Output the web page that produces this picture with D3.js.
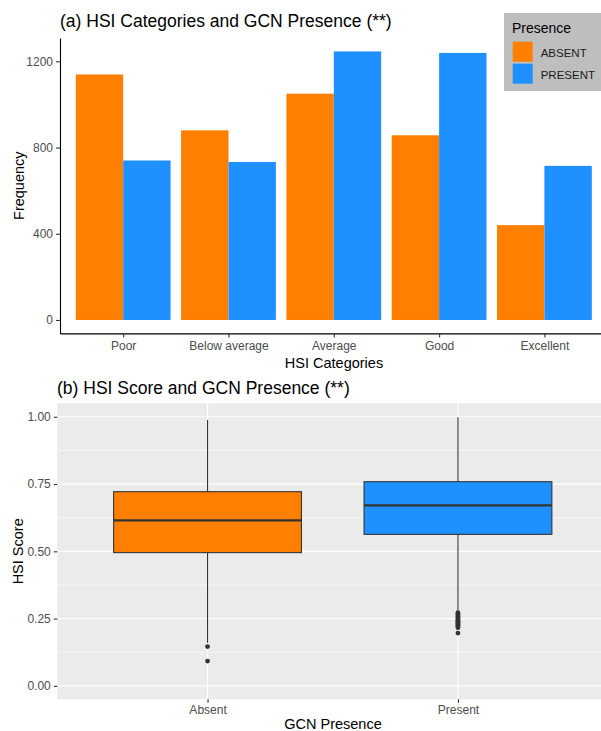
<!DOCTYPE html>
<html>
<head>
<meta charset="utf-8">
<script src="https://cdn.jsdelivr.net/npm/d3@7"></script>
<style>
  html, body { margin: 0; padding: 0; background: #fff; }
  svg { display: block; font-family: "Liberation Sans", Arial, sans-serif; }
</style>
</head>
<body>
<svg id="chart" width="601" height="731"></svg>
<script>
// ---- Panel (a): counts of sites per HSI category, split by GCN presence
const categories = ["Poor", "Below average", "Average", "Good", "Excellent"];
const presenceGroups = ["ABSENT", "PRESENT"];
const absentCounts = [1139, 880, 1050, 857, 440];
const presentCounts = [740, 733, 1246, 1239, 715];
const freqTicks = [0, 400, 800, 1200];

// ---- Panel (b): HSI score distribution by GCN presence
const boxGroups = ["Absent", "Present"];
const boxLower = [0.160, 0.280];      // lower whisker end
const boxQ1 = [0.495, 0.563];
const boxMedian = [0.615, 0.671];
const boxQ3 = [0.7215, 0.7586];
const boxUpper = [0.988, 0.998];      // upper whisker end
const absentOutliers = [0.146, 0.092];
const presentOutliers = [0.272, 0.268, 0.264, 0.260, 0.256, 0.252, 0.248, 0.244, 0.240,
                         0.236, 0.232, 0.228, 0.224, 0.220, 0.216, 0.196];
const scoreTicks = [0, 0.25, 0.5, 0.75, 1.0];
const scoreMinor = [0.125, 0.375, 0.625, 0.875];

const fillColor = { ABSENT: "#FF7F00", PRESENT: "#1E90FF", Absent: "#FF7F00", Present: "#1E90FF" };
const svg = d3.select("#chart");
const tickFont = 12;

// ================= Panel (a) =================
const aLeft = 60, aRight = 607.6, aTop = 38, aBottom = 333.4;
const counts = categories.map((c, i) => ({ cat: c, ABSENT: absentCounts[i], PRESENT: presentCounts[i] }));
const maxCount = d3.max(counts, d => Math.max(d.ABSENT, d.PRESENT));

const xA = d3.scalePoint().domain(categories).range([aLeft, aRight]).padding(0.6);
const stepA = xA.step();
const xInner = d3.scaleBand().domain(presenceGroups).range([-0.45 * stepA, 0.45 * stepA]);
const yA = d3.scaleLinear().domain([-0.05 * maxCount, 1.05 * maxCount]).range([aBottom, aTop]);

svg.append("text")
  .attr("x", 60).attr("y", 27)
  .attr("font-size", 17.5).attr("fill", "#000")
  .text("(a) HSI Categories and GCN Presence (**)");

const gBars = svg.append("g");
counts.forEach(d => {
  presenceGroups.forEach(g => {
    gBars.append("rect")
      .attr("x", xA(d.cat) + xInner(g))
      .attr("width", xInner.bandwidth())
      .attr("y", yA(d[g]))
      .attr("height", yA(0) - yA(d[g]))
      .attr("fill", fillColor[g]);
  });
});

// axes (classic theme: black lines, no grid)
const axA_y = svg.append("g").attr("transform", `translate(${aLeft},0)`)
  .call(d3.axisLeft(yA).tickValues(freqTicks).tickFormat(d3.format("d"))
    .tickSize(4).tickSizeOuter(0).tickPadding(3));
const axA_x = svg.append("g").attr("transform", `translate(0,${aBottom})`)
  .call(d3.axisBottom(xA).tickSize(4).tickSizeOuter(0).tickPadding(4));
[axA_y, axA_x].forEach(ax => {
  ax.select(".domain").attr("stroke", "#000").attr("stroke-width", 1.1);
  ax.selectAll(".tick line").attr("stroke", "#333").attr("stroke-width", 1.1);
  ax.selectAll(".tick text").attr("fill", "#4D4D4D").attr("font-size", tickFont)
    .attr("font-family", "Liberation Sans, Arial, sans-serif");
});

svg.append("text")
  .attr("transform", `translate(24,${(aTop + aBottom) / 2}) rotate(-90)`)
  .attr("text-anchor", "middle").attr("font-size", 14.5).attr("fill", "#000")
  .text("Frequency");
svg.append("text")
  .attr("x", 334).attr("y", 367.5)
  .attr("text-anchor", "middle").attr("font-size", 14.5).attr("fill", "#000")
  .text("HSI Categories");

// legend
const leg = svg.append("g").attr("transform", "translate(504,13)");
leg.append("rect").attr("width", 100).attr("height", 78).attr("fill", "#BEBEBE");
leg.append("text").attr("x", 8).attr("y", 20).attr("font-size", 14).attr("fill", "#000").text("Presence");
presenceGroups.forEach((g, i) => {
  leg.append("rect").attr("x", 8.7).attr("y", 28.7 + i * 22).attr("width", 20).attr("height", 20)
    .attr("fill", fillColor[g]);
  leg.append("text").attr("x", 36.7).attr("y", 43.5 + i * 22).attr("font-size", 11.5)
    .attr("fill", "#1A1A1A").text(g);
});

// ================= Panel (b) =================
const bLeft = 57.3, bRight = 608.2, bTop = 403.3, bBottom = 699.3;
const xB = d3.scalePoint().domain(boxGroups).range([bLeft, bRight]).padding(0.6);
const yB = d3.scaleLinear().domain([-0.05, 1.05]).range([bBottom, bTop]);
const boxW = 0.75 * xB.step();

svg.append("text")
  .attr("x", 57).attr("y", 394)
  .attr("font-size", 17.5).attr("fill", "#000")
  .text("(b) HSI Score and GCN Presence (**)");

svg.append("rect")
  .attr("x", bLeft).attr("y", bTop)
  .attr("width", bRight - bLeft).attr("height", bBottom - bTop)
  .attr("fill", "#EBEBEB");

const grid = svg.append("g");
scoreMinor.forEach(v => grid.append("line")
  .attr("x1", bLeft).attr("x2", bRight).attr("y1", yB(v)).attr("y2", yB(v))
  .attr("stroke", "#fff").attr("stroke-width", 0.6));
scoreTicks.forEach(v => grid.append("line")
  .attr("x1", bLeft).attr("x2", bRight).attr("y1", yB(v)).attr("y2", yB(v))
  .attr("stroke", "#fff").attr("stroke-width", 1.2));
boxGroups.forEach(g => grid.append("line")
  .attr("x1", xB(g)).attr("x2", xB(g)).attr("y1", bTop).attr("y2", bBottom)
  .attr("stroke", "#fff").attr("stroke-width", 1.2));

const boxes = boxGroups.map((g, i) => ({
  g, lo: boxLower[i], q1: boxQ1[i], med: boxMedian[i], q3: boxQ3[i], hi: boxUpper[i],
  out: i === 0 ? absentOutliers : presentOutliers
}));

const gBox = svg.append("g");
boxes.forEach(b => {
  const cx = xB(b.g);
  gBox.append("line").attr("x1", cx).attr("x2", cx).attr("y1", yB(b.hi)).attr("y2", yB(b.q3))
    .attr("stroke", "#333").attr("stroke-width", 1.1);
  gBox.append("line").attr("x1", cx).attr("x2", cx).attr("y1", yB(b.q1)).attr("y2", yB(b.lo))
    .attr("stroke", "#333").attr("stroke-width", 1.1);
  gBox.append("rect")
    .attr("x", cx - boxW / 2).attr("width", boxW)
    .attr("y", yB(b.q3)).attr("height", yB(b.q1) - yB(b.q3))
    .attr("fill", fillColor[b.g]).attr("stroke", "#333").attr("stroke-width", 1.1);
  gBox.append("line").attr("x1", cx - boxW / 2).attr("x2", cx + boxW / 2)
    .attr("y1", yB(b.med)).attr("y2", yB(b.med))
    .attr("stroke", "#333").attr("stroke-width", 2.2);
  b.out.forEach(v => gBox.append("circle")
    .attr("cx", cx).attr("cy", yB(v)).attr("r", 2.4).attr("fill", "#333"));
});

const axB_y = svg.append("g").attr("transform", `translate(${bLeft},0)`)
  .call(d3.axisLeft(yB).tickValues(scoreTicks).tickFormat(d3.format(".2f")).tickSize(3.5).tickPadding(3));
const axB_x = svg.append("g").attr("transform", `translate(0,${bBottom})`)
  .call(d3.axisBottom(xB).tickSize(3.5).tickPadding(3));
[axB_y, axB_x].forEach(ax => {
  ax.select(".domain").remove();
  ax.selectAll(".tick line").attr("stroke", "#333").attr("stroke-width", 1.1);
  ax.selectAll(".tick text").attr("fill", "#4D4D4D").attr("font-size", tickFont)
    .attr("font-family", "Liberation Sans, Arial, sans-serif");
});

svg.append("text")
  .attr("transform", `translate(23,${(bTop + bBottom) / 2}) rotate(-90)`)
  .attr("text-anchor", "middle").attr("font-size", 14.5).attr("fill", "#000")
  .text("HSI Score");
svg.append("text")
  .attr("x", 333).attr("y", 729)
  .attr("text-anchor", "middle").attr("font-size", 14.5).attr("fill", "#000")
  .text("GCN Presence");
</script>
</body>
</html>
